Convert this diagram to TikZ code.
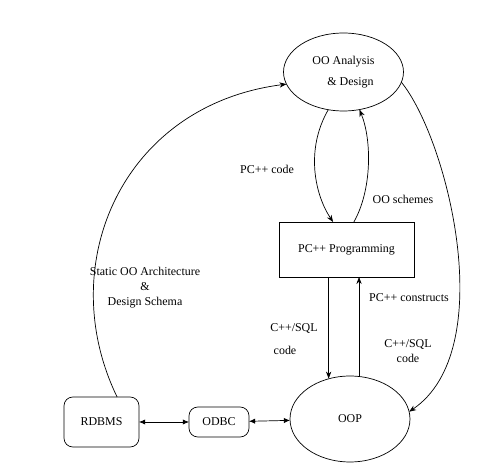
\documentclass[tikz,border=0pt]{standalone}
\usepackage{fontspec}
\setmainfont{Liberation Serif}
\usepackage{tikz}
\usetikzlibrary{positioning}
\usetikzlibrary{shapes.geometric}
\usetikzlibrary{arrows.meta}

\begin{document}
\begin{tikzpicture}[
    x=0.02cm, y=-0.02cm,
    font=\fontsize{6.8}{8.5}\selectfont,
    phase/.style={ellipse, draw, inner sep=0pt, outer sep=0pt, minimum width=2.4cm},
    tool/.style={rectangle, draw, rounded corners=5pt, inner sep=0pt, outer sep=0pt},
    flow/.style={-{Stealth[length=4pt,width=3pt]}},
    link/.style={{Latex[length=3.5pt,width=3pt]}-{Latex[length=3.5pt,width=3pt]}}
]
    \useasboundingbox (0,0) rectangle (498,476);

    % The phases
    \node[phase, minimum height=1.56cm, align=center, font=\fontsize{6.8}{12}\selectfont] (ooa) at (343.5,72) {OO Analysis\\\hspace{8pt}\& Design};
    \node[rectangle, draw, inner sep=0pt, outer sep=0pt, minimum width=2.7cm, minimum height=1.1cm] (prog) at (346.5,249.5) {PC++ Programming\hspace{14pt}};
    \node[phase, minimum height=1.72cm] (oop) at (350,419) {OOP};

    % Database side
    \node[tool, minimum width=1.5cm, minimum height=1cm] (rdbms) at (101.5,422) {RDBMS};
    \node[tool, minimum width=1.2cm, minimum height=0.6cm] (odbc) at (219,422) {ODBC};

    % Connections
    \draw[flow] (ooa.248) .. controls (305,150) and (315,195) .. (prog.116);
    \draw[flow] (prog.75) .. controls (372,190) and (372,140) .. (ooa.293);
    \draw[flow] (prog.237.5) -- (prog.237.5 |- oop.117.5);
    \draw[flow] (oop.78) -- (oop.78 |- prog.294.4);
    \draw[flow] (ooa.350.5) .. controls (448,140) and (500,350) .. (oop.7);
    \draw[flow] (rdbms.58) .. controls (53,265) and (122,105) .. (ooa.192);
    \draw[link] (rdbms) -- (odbc);
    \draw[link] (odbc) -- (oop);

    % Labels
    \node (lcode) at (267,169) {PC++ code};
    \node (lschemes) at (403,199) {OO schemes};
    \node[align=center] (lstatic) at (145,288) {Static OO Architecture\\\&\\Design Schema};
    \node (lconstructs) at (409,298) {PC++ constructs};
    \node (lsql) at (294,329) {C++/SQL};
    \node (lsqlcode) at (285,350) {code};
    \node[align=center] (rsql) at (408,351) {C++/SQL\\code};
\end{tikzpicture}
\end{document}
